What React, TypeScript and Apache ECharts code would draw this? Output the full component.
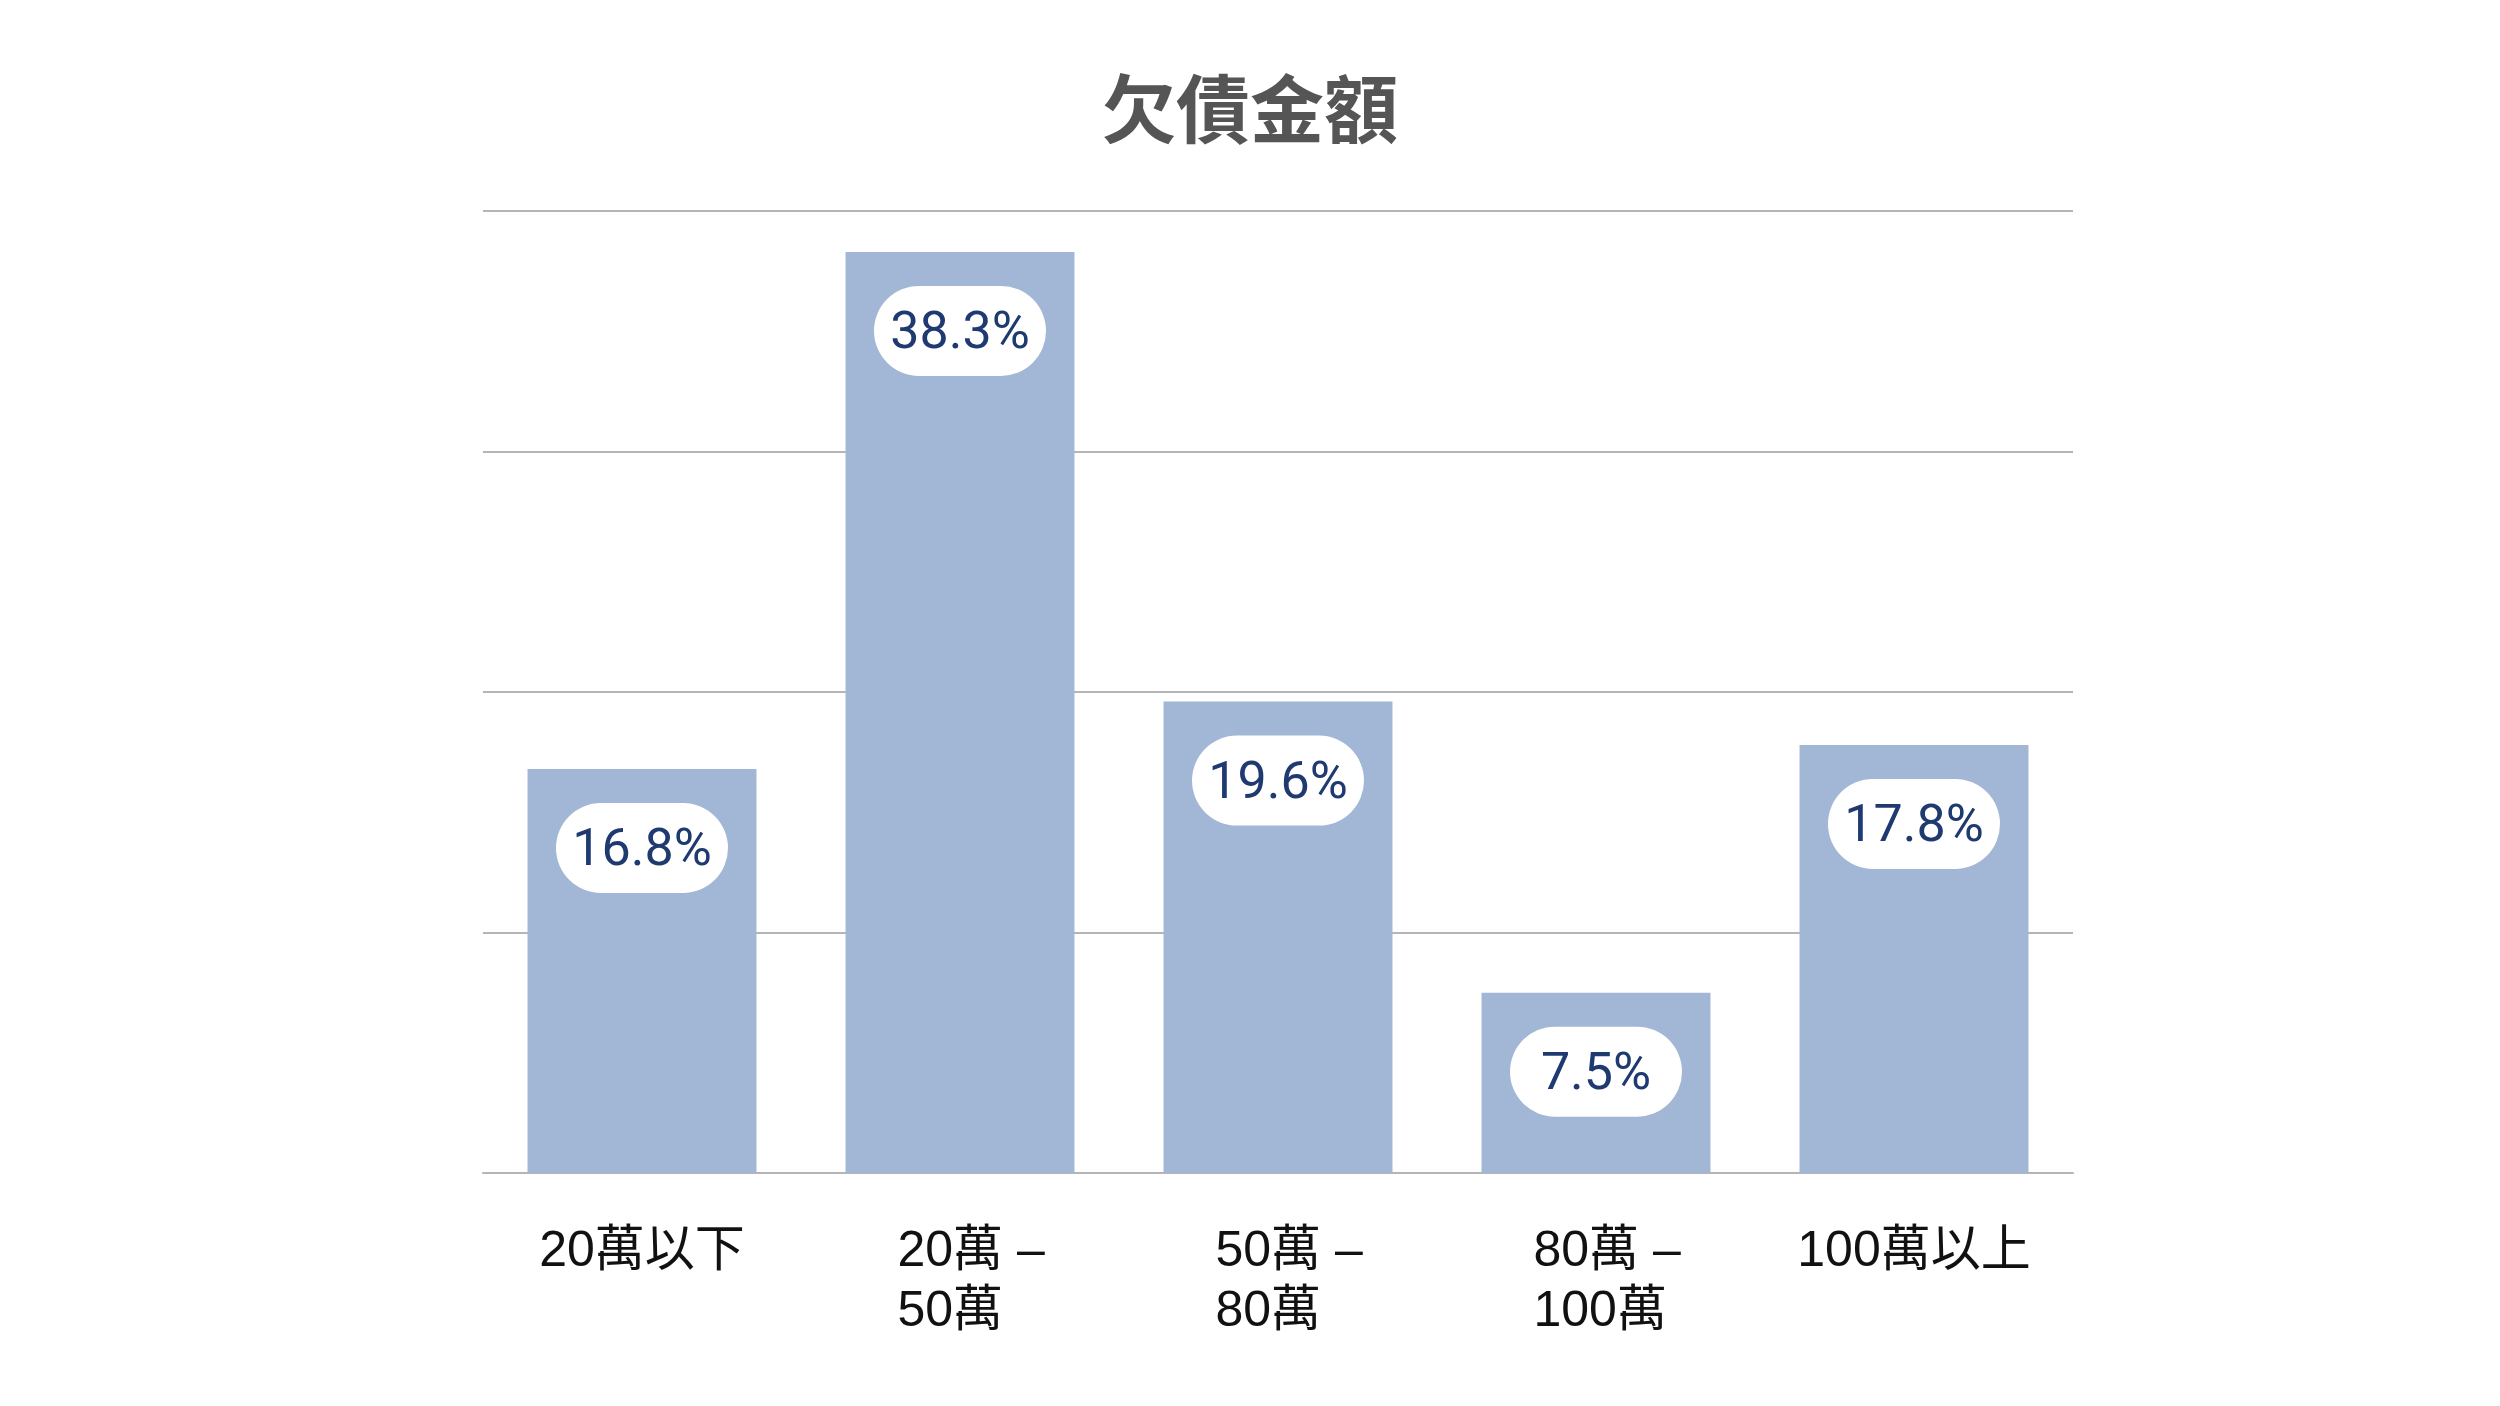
import React, { useEffect, useRef } from "react";
import * as echarts from "echarts";

const titleText = "欠債金額";
const categories = ["20萬以下", "20萬 –\n50萬", "50萬 –\n80萬", "80萬 –\n100萬", "100萬以上"];
const values = [16.8, 38.3, 19.6, 7.5, 17.8];
const yMin = 0;
const yMax = 40;
const yInterval = 10;

export default function App() {
  const ref = useRef<HTMLDivElement>(null);
  useEffect(() => {
    if (!ref.current) return;
    const chart = echarts.init(ref.current, null, { renderer: "svg" });
    chart.setOption({
      animation: false,
      backgroundColor: "#ffffff",
      title: {
        text: titleText,
        left: "center",
        top: 62,
        textStyle: {
          fontSize: 74,
          fontWeight: "bold",
          color: "#555555",
          fontFamily: "Noto Sans CJK TC",
        },
      },
      grid: { left: 483, right: 427, top: 211, bottom: 233 },
      xAxis: {
        type: "category",
        data: categories,
        axisTick: { show: false },
        axisLine: { lineStyle: { color: "#b5b5b5", width: 2 } },
        axisLabel: {
          interval: 0,
          margin: 46,
          color: "#111111",
          fontSize: 50,
          lineHeight: 60,
          fontFamily: "Liberation Sans, Noto Sans CJK TC",
          formatter: (v: string) =>
            v.includes("\n")
              ? v
                  .split("\n")
                  .map((l) => "{m|" + l + "}")
                  .join("\n")
              : v,
          rich: {
            m: {
              width: 125,
              align: "left",
              fontSize: 50,
              lineHeight: 60,
              color: "#111111",
              fontFamily: "Liberation Sans, Noto Sans CJK TC",
            },
          },
        },
      },
      yAxis: {
        type: "value",
        min: yMin,
        max: yMax,
        interval: yInterval,
        axisLabel: { show: false },
        axisLine: { show: false },
        axisTick: { show: false },
        splitLine: { lineStyle: { color: "#b5b5b5", width: 2 } },
      },
      series: [
        {
          type: "bar",
          data: values,
          barWidth: "72%",
          itemStyle: { color: "#a2b7d5" },
          label: {
            show: true,
            position: "insideTop",
            distance: 34,
            formatter: (p: any) => p.value.toFixed(1) + "%",
            backgroundColor: "#ffffff",
            borderRadius: 45,
            width: 136,
            align: "center",
            padding: [16, 18, 16, 18],
            color: "#1f3a70",
            fontSize: 52,
            lineHeight: 58,
            fontWeight: "normal",
            fontFamily: "Roboto, Noto Sans",
          },
        },
      ],
    });
    return () => chart.dispose();
  }, []);
  return (
    <div
      ref={ref}
      style={{ position: "absolute", left: 0, top: 0, width: 2500, height: 1406 }}
    />
  );
}
